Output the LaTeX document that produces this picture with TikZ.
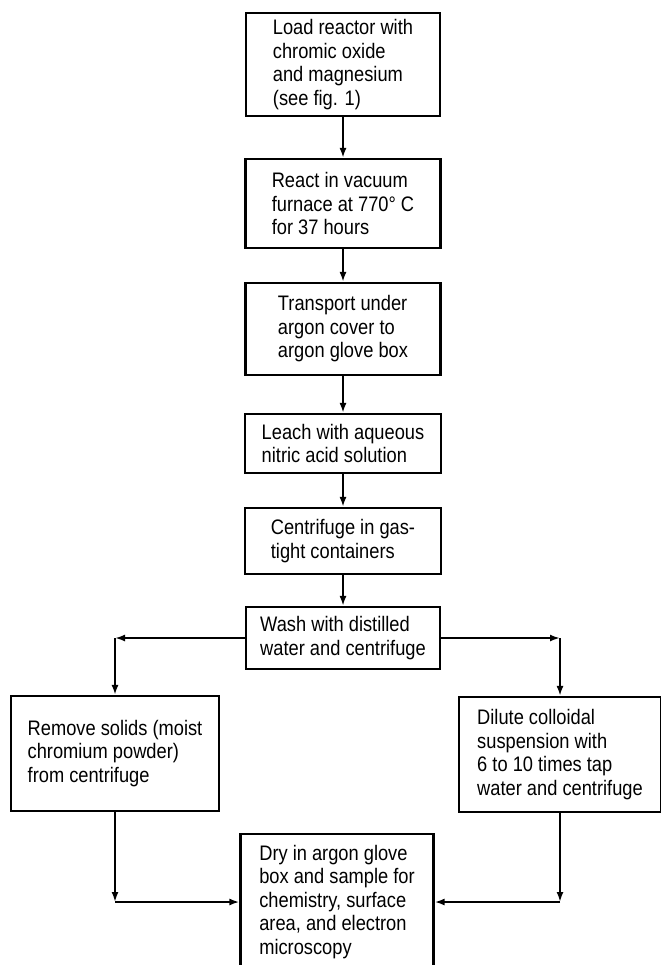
\documentclass[tikz,border=0pt]{standalone}
\usepackage{fontspec}
\setmainfont[FakeStretch=0.87]{Liberation Sans}
\usepackage{tikz}
\usetikzlibrary{arrows.meta}

\begin{document}
\begin{tikzpicture}[x=1bp, y=-1bp, line width=2.1bp, >={Latex[length=10bp,width=7bp]},
	stage/.style={draw, align=left, inner sep=0pt, font=\fontsize{21bp}{23.5bp}\selectfont}]
	\useasboundingbox (0,0) rectangle (661,965);
	\node[stage, minimum width=194bp, minimum height=103bp] (load) at (343, 64.5) {Load reactor with\\chromic oxide\\and magnesium\\(see fig. 1)};
	\node[stage, minimum width=195bp, minimum height=89bp] (react) at (343, 203.5) {React in vacuum\\furnace at 770° C\\for 37 hours};
	\node[stage, minimum width=195bp, minimum height=92bp] (transport) at (343, 329) {Transport under\\argon cover to\\argon glove box};
	\node[stage, minimum width=196bp, minimum height=59bp] (leach) at (343, 443.5) {Leach with aqueous\\nitric acid solution};
	\node[stage, minimum width=196bp, minimum height=66bp] (centri) at (343, 541) {Centrifuge in gas-\\tight containers};
	\node[stage, minimum width=194bp, minimum height=62bp] (wash) at (343, 638) {Wash with distilled\\water and centrifuge};
	\node[stage, minimum width=208bp, minimum height=115bp] (remove) at (115, 753.5) {Remove solids (moist\\chromium powder)\\from centrifuge};
	\node[stage, minimum width=202bp, minimum height=115bp] (dilute) at (560, 754.5) {Dilute colloidal\\suspension with\\6 to 10 times tap\\water and centrifuge};
	\node[stage, minimum width=193bp, minimum height=136bp] (dry) at (337, 902) {Dry in argon glove\\box and sample for\\chemistry, surface\\area, and electron\\microscopy};
	\coordinate (cl) at (remove.north |- wash.west);
	\coordinate (cr) at (dilute.north |- wash.east);
	\coordinate (bl) at (remove.south |- dry.west);
	\coordinate (br) at (dilute.south |- dry.east);
	\draw[->] (load) -- (react);
	\draw[->] (react) -- (transport);
	\draw[->] (transport) -- (leach);
	\draw[->] (leach) -- (centri);
	\draw[->] (centri) -- (wash);
	\draw[->] (wash.west) -- (cl);
	\draw[->] (cl) -- (remove);
	\draw[->] (wash.east) -- (cr);
	\draw[->] (cr) -- (dilute);
	\draw[->] (remove) -- (bl);
	\draw[->] (bl) -- (dry);
	\draw[->] (dilute) -- (br);
	\draw[->] (br) -- (dry);
\end{tikzpicture}
\end{document}
